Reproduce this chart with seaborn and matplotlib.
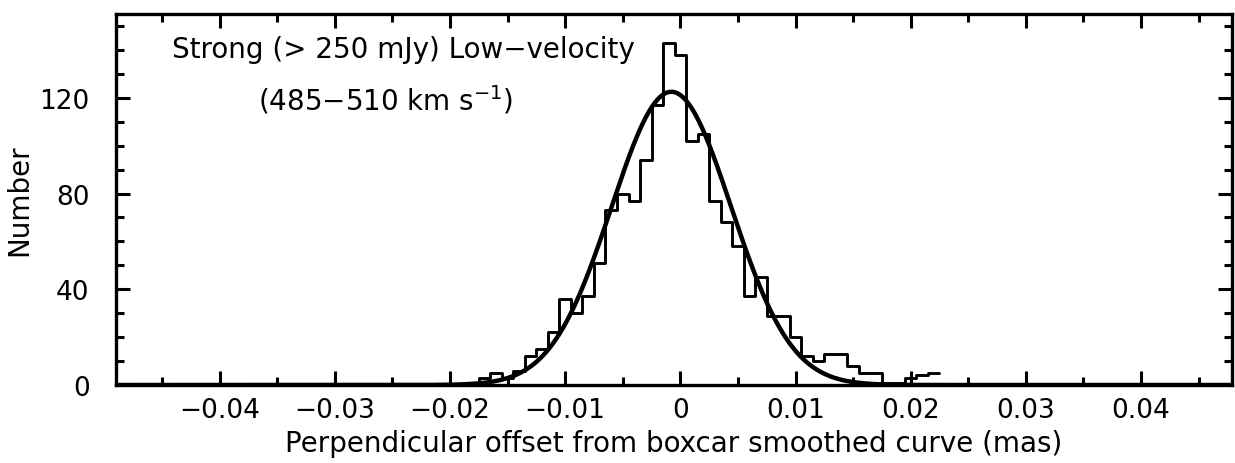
import numpy as np
import pandas as pd
import seaborn as sns
import matplotlib
matplotlib.use("Agg")
import matplotlib.pyplot as plt
from matplotlib.ticker import MultipleLocator, FuncFormatter

# Histogram bin centres (mas) and counts
bin_centers = [-0.019, -0.018, -0.017, -0.016, -0.015, -0.014, -0.013, -0.012,
               -0.011, -0.010, -0.009, -0.008, -0.007, -0.006, -0.005, -0.004,
               -0.003, -0.002, -0.001, 0.000, 0.001, 0.002, 0.003, 0.004,
               0.005, 0.006, 0.007, 0.008, 0.009, 0.010, 0.011, 0.012,
               0.013, 0.014, 0.015, 0.016, 0.017, 0.018, 0.019, 0.020,
               0.021, 0.022]
counts = [0, 1, 3, 5, 3, 6, 12, 15,
          22, 36, 30, 37, 51, 73, 80, 77,
          94, 117, 143, 138, 102, 105, 77, 68,
          58, 37, 45, 29, 29, 20, 12, 10,
          13, 13, 8, 5, 5, 1, 1, 3,
          4, 5]

# Gaussian fit parameters
fit_amp = 122.5
fit_mean = -0.00078
fit_sigma = 0.0052

x_ticks = [-0.04, -0.03, -0.02, -0.01, 0.0, 0.01, 0.02, 0.03, 0.04]
y_ticks = [0, 40, 80, 120]

sns.set_theme(style="ticks")
plt.rcParams['font.family'] = ['DejaVu Sans']
plt.rcParams['text.color'] = 'black'
plt.rcParams['axes.labelcolor'] = 'black'
plt.rcParams['xtick.color'] = 'black'
plt.rcParams['ytick.color'] = 'black'

fig = plt.figure(figsize=(12.35, 4.64), dpi=100)
ax = fig.add_axes([116/1235, 1 - 386/464, (1232 - 116)/1235, (386 - 15)/464])

df = pd.DataFrame({"offset": bin_centers, "count": counts})
sns.histplot(data=df, x="offset", weights="count", binwidth=0.001,
             binrange=(-0.0195, 0.0225), element="step", fill=False,
             color="black", linewidth=2.1, ax=ax)

xf = np.linspace(-0.049, 0.048, 800)
yf = fit_amp * np.exp(-0.5 * ((xf - fit_mean) / fit_sigma) ** 2)
sns.lineplot(x=xf, y=yf, color="black", linewidth=3.2, ax=ax)

ax.set_xlim(-0.049, 0.0479)
ax.set_ylim(0, 155)

ax.set_xticks(x_ticks)
ax.set_yticks(y_ticks)
ax.xaxis.set_minor_locator(MultipleLocator(0.005))
ax.yaxis.set_minor_locator(MultipleLocator(10))

def fmt(v, pos):
    if abs(v) < 1e-9:
        return "0"
    s = "%.2f" % v
    return s.replace("-", "\u2212")

ax.xaxis.set_major_formatter(FuncFormatter(fmt))

ax.tick_params(axis="both", which="major", direction="in", length=10, width=2.2,
               top=True, right=True, labelsize=19, color="black", labelcolor="black")
ax.tick_params(axis="both", which="minor", direction="in", length=5.5, width=2.2,
               top=True, right=True, color="black")
ax.tick_params(axis="x", which="major", pad=9)
ax.tick_params(axis="y", which="major", pad=19)

for sp in ax.spines.values():
    sp.set_linewidth(2.4)
    sp.set_color("black")

ax.set_xlabel("Perpendicular offset from boxcar smoothed curve (mas)", fontsize=20,
              labelpad=4, color="black")
ax.set_ylabel("Number", fontsize=20, color="black")
ax.yaxis.set_label_coords(-0.074, 0.5)

ax.text(-0.0441, 140.5, "Strong (> 250 mJy) Low\u2212velocity", fontsize=20,
        va="center", ha="left", color="black")
ax.text(-0.0367, 119.5, "(485\u2212510 km s$^{-1}$)", fontsize=20,
        va="center", ha="left", color="black")

fig.savefig("out.png", dpi=100)
